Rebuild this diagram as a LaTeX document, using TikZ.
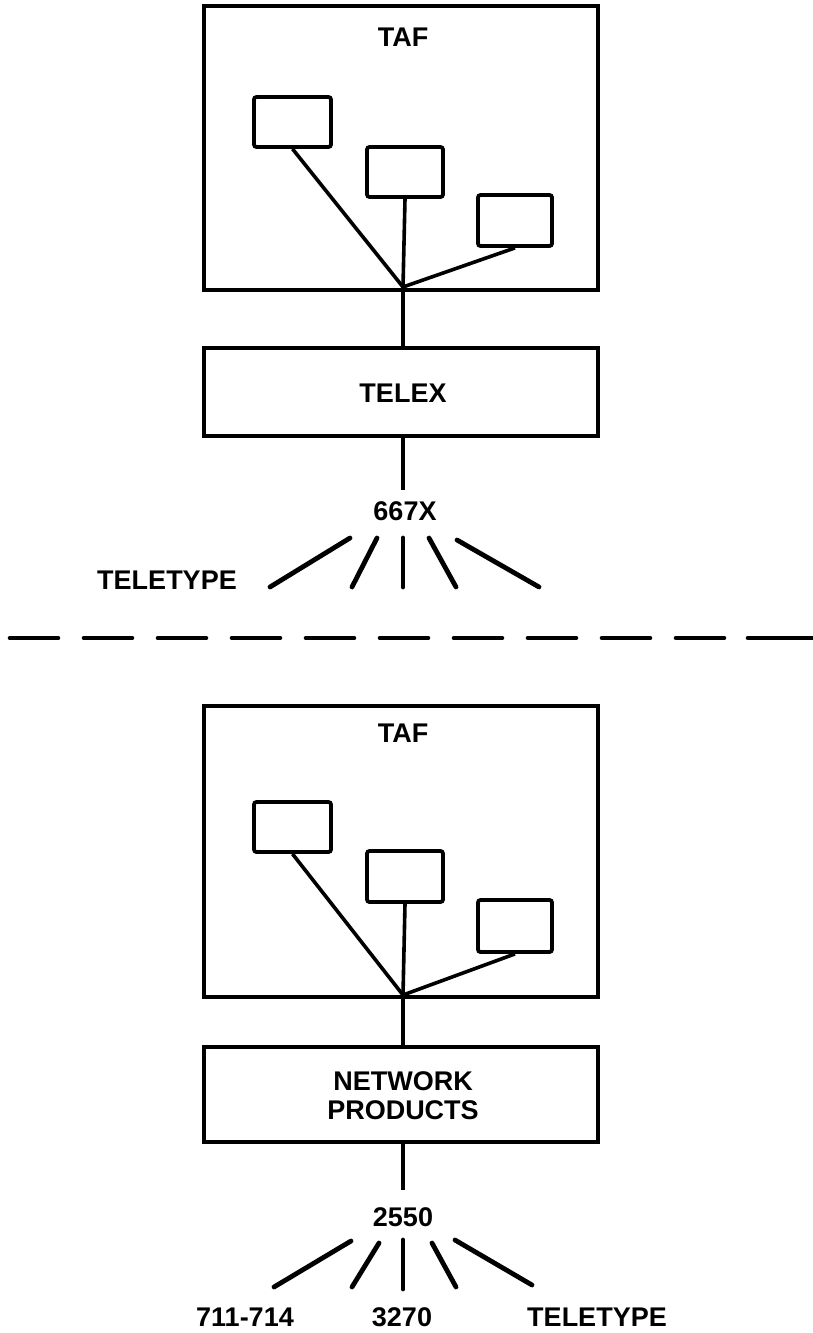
\documentclass[tikz,border=0pt]{standalone}
\usepackage{fontspec}
\setmainfont{Liberation Sans}
\begin{document}
\begin{tikzpicture}[x=1pt,y=-1pt,
  bigbox/.style={draw, line width=4pt, rectangle, inner sep=0pt, minimum width=394pt},
  termbox/.style={draw, line width=3.8pt, rectangle, rounded corners=2.5pt, inner sep=0pt},
  conn/.style={line width=3.6pt},
  fan/.style={line width=4.8pt, line cap=round},
  lbl/.style={inner sep=0pt, font=\fontsize{27}{29}\selectfont\bfseries, align=center},
  sep/.style={line width=4.6pt, line cap=round, dash pattern=on 48pt off 26pt},
  sepend/.style={line width=4.6pt, line cap=round}
]
\useasboundingbox (0,0) rectangle (812,1333);

% ---------- upper part ----------
\node[bigbox, minimum height=284pt] (taf1) at (401,148) {};
\node[lbl] (taf1l) at (403,37) {TAF};
\node[termbox, minimum width=77pt, minimum height=50pt] (t1a) at (292.5,122) {};
\node[termbox, minimum width=76pt, minimum height=50pt] (t1b) at (405,172) {};
\node[termbox, minimum width=74pt, minimum height=51pt] (t1c) at (515,220.5) {};
\coordinate (hub1) at (403,287);
\draw[conn] (t1a.south) -- (hub1);
\draw[conn] (t1b.south) -- (hub1);
\draw[conn] (t1c.south) -- (hub1);

\node[bigbox, minimum height=88pt] (telex) at (401,392) {};
\node[lbl] (telexl) at (403,393) {TELEX};
\draw[conn] (hub1) -- (hub1 |- telex.north);

\coordinate (e1) at (403,490);
\draw[conn] (e1 |- telex.south) -- (e1);
\node[lbl] (x667) at (405,511) {667X};

\coordinate (f1a) at (350,538); \coordinate (g1a) at (270,587);
\coordinate (f1b) at (377,538); \coordinate (g1b) at (352,587);
\coordinate (f1c) at (403,538); \coordinate (g1c) at (403,587);
\coordinate (f1d) at (429,538); \coordinate (g1d) at (456,587);
\coordinate (f1e) at (457,540); \coordinate (g1e) at (539,587);
\draw[fan] (f1a) -- (g1a);
\draw[fan] (f1b) -- (g1b);
\draw[fan] (f1c) -- (g1c);
\draw[fan] (f1d) -- (g1d);
\draw[fan] (f1e) -- (g1e);
\node[lbl] (tty1) at (167,580) {TELETYPE};

% ---------- separator ----------
\coordinate (s1) at (10,638);
\coordinate (s3) at (740,638);
\coordinate (s4) at (748,638);
\coordinate (s2) at (815,638);
\draw[sep] (s1) -- (s3);
\draw[sepend] (s4) -- (s2);

% ---------- lower part ----------
\node[bigbox, minimum height=291pt] (taf2) at (401,851.5) {};
\node[lbl] (taf2l) at (403,733) {TAF};
\node[termbox, minimum width=77pt, minimum height=50pt] (t2a) at (292.5,827) {};
\node[termbox, minimum width=76pt, minimum height=51pt] (t2b) at (405,876.5) {};
\node[termbox, minimum width=74pt, minimum height=52pt] (t2c) at (515,926) {};
\coordinate (hub2) at (403,995);
\draw[conn] (t2a.south) -- (hub2);
\draw[conn] (t2b.south) -- (hub2);
\draw[conn] (t2c.south) -- (hub2);

\node[bigbox, minimum height=95pt] (np) at (401,1094.5) {};
\node[lbl] (npl) at (403,1096) {NETWORK\\PRODUCTS};
\draw[conn] (hub2) -- (hub2 |- np.north);

\coordinate (e2) at (403,1190);
\draw[conn] (e2 |- np.south) -- (e2);
\node[lbl] (x2550) at (403,1217) {2550};

\coordinate (f2a) at (351,1241); \coordinate (g2a) at (274,1287);
\coordinate (f2b) at (379,1243); \coordinate (g2b) at (352,1287);
\coordinate (f2c) at (403,1240); \coordinate (g2c) at (403,1289);
\coordinate (f2d) at (432,1243); \coordinate (g2d) at (456,1287);
\coordinate (f2e) at (455,1240); \coordinate (g2e) at (532,1285);
\draw[fan] (f2a) -- (g2a);
\draw[fan] (f2b) -- (g2b);
\draw[fan] (f2c) -- (g2c);
\draw[fan] (f2d) -- (g2d);
\draw[fan] (f2e) -- (g2e);
\node[lbl] (m711) at (245,1317) {711-714};
\node[lbl] (m3270) at (402,1317) {3270};
\node[lbl] (tty2) at (597,1317) {TELETYPE};
\end{tikzpicture}
\end{document}
